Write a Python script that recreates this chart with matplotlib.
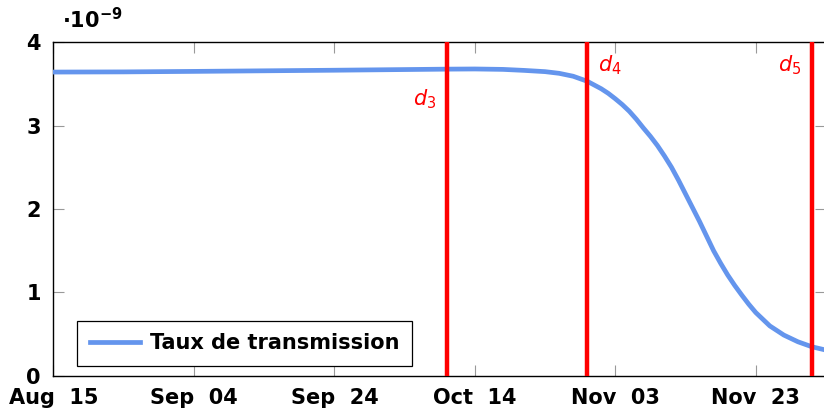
# =========================================================
# TAUX DE TRANSMISSION - AUG TO DEC
# =========================================================

import matplotlib.dates as mdates
import matplotlib.pyplot as plt
import matplotlib.ticker as mticker
import pandas as pd

# =========================================================
# DATA
# =========================================================

start = pd.Timestamp("2020-08-15")

day_offsets = [0, 10, 20, 30, 40, 50, 56, 60, 64, 67, 70, 72, 74, 76, 78, 79,
               80, 81, 82, 83, 84, 85, 86, 87, 88, 89, 90, 91, 92, 93, 94, 95,
               96, 97, 98, 99, 100, 102, 104, 106, 108, 110]

rate_e9 = [3.64, 3.642, 3.648, 3.655, 3.662, 3.67, 3.675, 3.677, 3.672, 3.66,
           3.645, 3.625, 3.59, 3.53, 3.44, 3.385, 3.32, 3.25, 3.17, 3.075,
           2.97, 2.87, 2.76, 2.635, 2.50, 2.345, 2.18, 2.015, 1.85, 1.675,
           1.50, 1.35, 1.21, 1.085, 0.97, 0.86, 0.76, 0.60, 0.49, 0.41, 0.35,
           0.31]

event_dates = ["2020-10-10", "2020-10-30", "2020-12-01"]
event_labels = ["$d_3$", "$d_4$", "$d_5$"]

tick_dates = ["2020-08-15", "2020-09-04", "2020-09-24",
              "2020-10-14", "2020-11-03", "2020-11-23"]

dates = start + pd.to_timedelta(day_offsets, unit="D")
rate = [v * 1e-9 for v in rate_e9]

# =========================================================
# FIGURE
# =========================================================

plt.rcParams["font.family"] = "DejaVu Sans"
plt.rcParams["mathtext.fontset"] = "dejavusans"

fig = plt.figure(figsize=(8.24, 4.09), dpi=100)
ax = fig.add_axes([0.0649, 0.0807, 0.9375, 0.8166])

ax.plot(dates, rate, color="#6495ED", linewidth=3.4,
        solid_joinstyle="round", label="Taux de transmission", zorder=3)

for d in event_dates:
    ax.axvline(pd.Timestamp(d), color="red", linewidth=3.2, zorder=4)

# event labels
ax.text(pd.Timestamp(event_dates[0]) - pd.Timedelta(days=1.5), 3.32e-9,
        event_labels[0], color="red", fontsize=15, ha="right", va="center")
ax.text(pd.Timestamp(event_dates[1]) + pd.Timedelta(days=1.5), 3.72e-9,
        event_labels[1], color="red", fontsize=15, ha="left", va="center")
ax.text(pd.Timestamp(event_dates[2]) - pd.Timedelta(days=1.5), 3.72e-9,
        event_labels[2], color="red", fontsize=15, ha="right", va="center")

# =========================================================
# AXES FORMATTING
# =========================================================

ax.set_xlim(start, start + pd.Timedelta(days=110))
ax.set_ylim(0, 4e-9)

ax.set_xticks([pd.Timestamp(t) for t in tick_dates])
ax.xaxis.set_major_formatter(mdates.DateFormatter("%b  %d"))
ax.set_yticks([0, 1e-9, 2e-9, 3e-9, 4e-9])
ax.yaxis.set_major_formatter(
    mticker.FuncFormatter(lambda v, p: f"{v * 1e9:.0f}"))

ax.tick_params(direction="in", length=8, width=0.8, color="#999999",
               top=True, right=True, labelsize=15, pad=4)
for lab in ax.get_xticklabels() + ax.get_yticklabels():
    lab.set_fontweight("bold")
ax.tick_params(axis="x", pad=8.5)
ax.tick_params(axis="y", pad=9)

for spine in ax.spines.values():
    spine.set_linewidth(1.0)
    spine.set_color("black")

fig.text(0.075, 0.952, r"$\mathbf{\cdot 10^{-9}}$", fontsize=15,
         ha="left", va="center")

leg = ax.legend(loc="lower left", bbox_to_anchor=(0.031, 0.031),
                fancybox=False, edgecolor="black", framealpha=1,
                prop={"weight": "bold", "size": 15}, handlelength=2.4,
                borderpad=0.6, handletextpad=0.5, borderaxespad=0)
leg.get_frame().set_linewidth(0.9)

fig.savefig("out.png", dpi=100)
